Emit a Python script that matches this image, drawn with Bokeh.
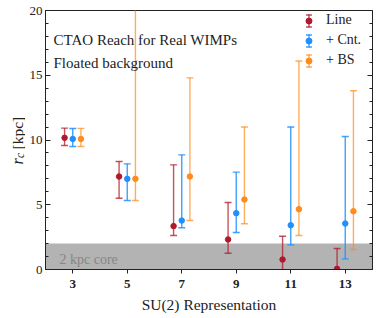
import numpy as np
from bokeh.plotting import figure
from bokeh.layouts import row
from bokeh.models import (Range1d, LinearAxis, FixedTicker, SingleIntervalTicker,
                          BoxAnnotation, Label, Legend, LegendItem)
from bokeh.embed import file_html
from bokeh.resources import INLINE

# ---- data ----
reps = [3, 5, 7, 9, 11, 13]
x_ticks = [3, 5, 7, 9, 11, 13]
series_names = ["Line", "+ Cnt.", "+ BS"]

line_val = [10.17, 7.18, 3.35, 2.32, 0.77, 0.05]
line_lo = [9.57, 5.50, 2.63, 1.26, -0.50, -1.50]
line_hi = [10.92, 8.34, 8.08, 5.17, 2.57, 1.62]

cnt_val = [10.08, 7.00, 3.78, 4.35, 3.42, 3.55]
cnt_lo = [9.50, 5.33, 3.22, 2.86, 1.90, 0.82]
cnt_hi = [10.89, 8.16, 8.85, 7.52, 11.00, 10.27]

bs_val = [10.08, 7.00, 7.18, 5.40, 4.66, 4.50]
bs_lo = [9.50, 5.33, 3.78, 3.53, 2.63, 1.54]
bs_hi = [10.90, 24.00, 14.80, 11.00, 16.10, 13.80]

core_radius = 2.0
core_label = "2 kpc core"

SERIF = "Liberation Serif"
INK = "#222222"
LAB_W = 25  # width of the strip holding the rotated y-axis label

p = figure(width=377 - LAB_W, height=318, x_range=Range1d(2, 14), y_range=Range1d(0, 20),
           output_backend="svg", toolbar_location=None,
           min_border_left=45 - LAB_W, min_border_right=5, min_border_top=10,
           min_border_bottom=49)
p.grid.visible = False
p.outline_line_color = INK
p.outline_line_width = 1
p.background_fill_color = "white"
p.border_fill_color = "white"

# x axis
xa = p.xaxis[0]
xa.ticker = FixedTicker(ticks=x_ticks)
xa.minor_tick_line_color = None
xa.major_tick_in = 0
xa.major_tick_out = 4
xa.axis_line_color = INK
xa.major_tick_line_color = INK
xa.major_label_text_font = SERIF
xa.major_label_text_font_size = "13px"
xa.major_label_text_font_style = "bold"
xa.major_label_text_color = INK
xa.major_label_standoff = 6
xa.axis_label = "SU(2) Representation"
xa.axis_label_text_font = SERIF
xa.axis_label_text_font_size = "15.5px"
xa.axis_label_text_font_style = "normal"
xa.axis_label_text_color = INK
xa.axis_label_standoff = 5

# y axis (left)
ya = p.yaxis[0]
ya.ticker = SingleIntervalTicker(interval=5, num_minor_ticks=5)
ya.major_tick_in = 5
ya.major_tick_out = 0
ya.minor_tick_in = 3
ya.minor_tick_out = 0
ya.axis_line_color = INK
ya.major_tick_line_color = INK
ya.minor_tick_line_color = INK
ya.major_label_text_font = SERIF
ya.major_label_text_font_size = "13px"
ya.major_label_text_color = INK
ya.major_label_standoff = 3

# right mirrored axis with inward ticks only
ra = LinearAxis(ticker=SingleIntervalTicker(interval=5, num_minor_ticks=5),
                major_tick_in=5, major_tick_out=0, minor_tick_in=3, minor_tick_out=0,
                major_label_text_font_size="0px", major_label_text_color=None,
                major_label_standoff=0, axis_line_color=INK,
                major_tick_line_color=INK, minor_tick_line_color=INK)
p.add_layout(ra, "right")

# core band
p.add_layout(BoxAnnotation(bottom=0, top=core_radius, fill_color="#b3b3b3", fill_alpha=1,
                           line_color="#d6d6d6", line_width=1, level="underlay"))
p.add_layout(Label(x=2, y=0, x_offset=14, y_offset=10.5, text=core_label,
                   text_font=SERIF, text_font_size="14px", text_color="#868686",
                   text_baseline="alphabetic"))

series = [
    (series_names[0], line_val, line_lo, line_hi, -0.3, "#b2182b", 0.75),
    (series_names[1], cnt_val, cnt_lo, cnt_hi, 0.0, "#1e90ff", 0.85),
    (series_names[2], bs_val, bs_lo, bs_hi, 0.3, "#ff8c1a", 0.7),
]

items = []
nan = np.array([np.nan])
for name, val, lo, hi, off, col, a in series:
    xs = np.array(reps, dtype=float) + off
    p.segment(x0=xs, y0=lo, x1=xs, y1=hi, line_color=col, line_alpha=a, line_width=1.4)
    p.scatter(x=xs, y=lo, marker="dash", size=7, line_color=col, line_alpha=a, line_width=1.4)
    p.scatter(x=xs, y=hi, marker="dash", size=7, line_color=col, line_alpha=a, line_width=1.4)
    dots = p.scatter(x=xs, y=val, marker="circle", size=5.5, fill_color=col, line_color=col)
    # legend-only glyphs (errorbar icon)
    ell = p.ellipse(x=nan, y=nan, width=0.01, height=10, width_units="screen",
                    height_units="screen", fill_color=None, line_color=col,
                    line_alpha=a, line_width=1.4)
    caps = p.rect(x=nan, y=nan, width=1, height=1, fill_color=None, line_color=col,
                  line_alpha=a, line_width=1.4, line_dash="6 18", line_dash_offset=21)
    items.append(LegendItem(label=name, renderers=[ell, caps, dots]))

legend = Legend(items=items, location="top_right", glyph_width=15, glyph_height=15,
                label_width=46, label_height=20, spacing=0, label_standoff=10,
                padding=5, margin=0, border_line_color=None, background_fill_alpha=0,
                label_text_font=SERIF, label_text_font_size="14px", label_text_color=INK)
p.add_layout(legend)

# title texts
p.add_layout(Label(x=2, y=20, x_offset=8, y_offset=-29, text="CTAO Reach for Real WIMPs",
                   text_font=SERIF, text_font_size="15px", text_color=INK,
                   text_baseline="alphabetic"))
p.add_layout(Label(x=2, y=20, x_offset=8, y_offset=-52, text="Floated background",
                   text_font=SERIF, text_font_size="15px", text_color=INK,
                   text_baseline="alphabetic"))

# strip for the rotated y-axis label r_c [kpc]; its frame covers the whole strip
lab = figure(width=LAB_W, height=318, x_range=Range1d(0, 1), y_range=Range1d(0, 1),
             output_backend="svg", toolbar_location=None, x_axis_type=None,
             y_axis_type=None, min_border=0, outline_line_color=None)
lab.grid.visible = False
lab.background_fill_color = "white"
lab.border_fill_color = "white"
ang = np.pi / 2
lab.add_layout(Label(x=17, y=164, x_units="canvas", y_units="canvas", text="r", angle=ang,
                     text_font=SERIF, text_font_size="16px", text_font_style="italic",
                     text_color=INK, text_baseline="alphabetic", text_align="left"))
lab.add_layout(Label(x=19, y=157.5, x_units="canvas", y_units="canvas", text="c",
                     angle=ang, text_font=SERIF, text_font_size="11.5px",
                     text_font_style="italic", text_color=INK,
                     text_baseline="alphabetic", text_align="left"))
lab.add_layout(Label(x=17, y=149, x_units="canvas", y_units="canvas", text="[kpc]",
                     angle=ang, text_font=SERIF, text_font_size="15.5px",
                     text_color=INK, text_baseline="alphabetic", text_align="left"))

layout = row(lab, p, spacing=0)
open("out.html", "w").write(file_html(layout, INLINE))
